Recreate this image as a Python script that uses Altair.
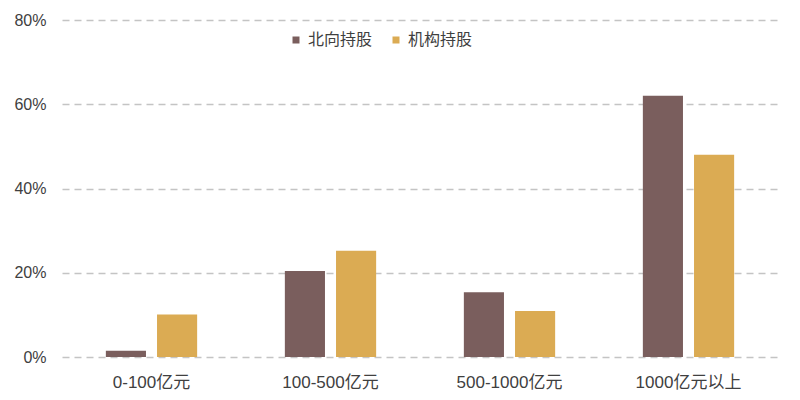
import altair as alt
import pandas as pd

categories = ["0-100亿元", "100-500亿元", "500-1000亿元", "1000亿元以上"]
series = ["北向持股", "机构持股"]
north = [0.015, 0.204, 0.154, 0.620]
inst = [0.101, 0.252, 0.109, 0.480]
colors = ["#7a5e5d", "#dbab53"]

rows = []
for c, n, i in zip(categories, north, inst):
    rows.append({"cat": c, "series": series[0], "value": n})
    rows.append({"cat": c, "series": series[1], "value": i})
df = pd.DataFrame(rows)

FONT = "Liberation Sans, Noto Sans CJK SC, sans-serif"
TXT = "#404040"

chart = alt.Chart(df).mark_bar().encode(
    x=alt.X("cat:N", sort=categories,
            scale=alt.Scale(paddingInner=0.49, paddingOuter=0.245),
            axis=alt.Axis(title=None, labelAngle=0, domain=False, ticks=False,
                          labelPadding=17, labelFontSize=17, labelColor=TXT, labelFont=FONT)),
    xOffset=alt.XOffset("series:N", sort=series,
                        scale=alt.Scale(paddingInner=0.216, paddingOuter=0)),
    y=alt.Y("value:Q", scale=alt.Scale(domain=[0, 0.8]),
            axis=alt.Axis(title=None, format=".0%", values=[0, 0.2, 0.4, 0.6, 0.8],
                          domain=False, ticks=False, labelPadding=16, labelFontSize=16,
                          labelColor=TXT, labelFont=FONT, gridDash=[7, 5],
                          gridColor="#c4c4c4", gridWidth=1.3)),
    color=alt.Color("series:N", sort=series,
                    scale=alt.Scale(domain=series, range=colors),
                    legend=alt.Legend(title=None, orient="none", direction="horizontal",
                                      legendX=226, legendY=12, symbolType="square",
                                      symbolSize=49, symbolStrokeWidth=0,
                                      labelFontSize=16, labelColor=TXT, labelFont=FONT,
                                      labelOffset=4, columnPadding=15)),
).properties(
    width=716, height=337,
    autosize=alt.AutoSizeParams(type="none"),
    padding={"left": 54, "top": 12, "right": 14, "bottom": 35},
).configure_view(stroke=None)

chart.save("out.html", embed_options={"renderer": "svg", "actions": False})
